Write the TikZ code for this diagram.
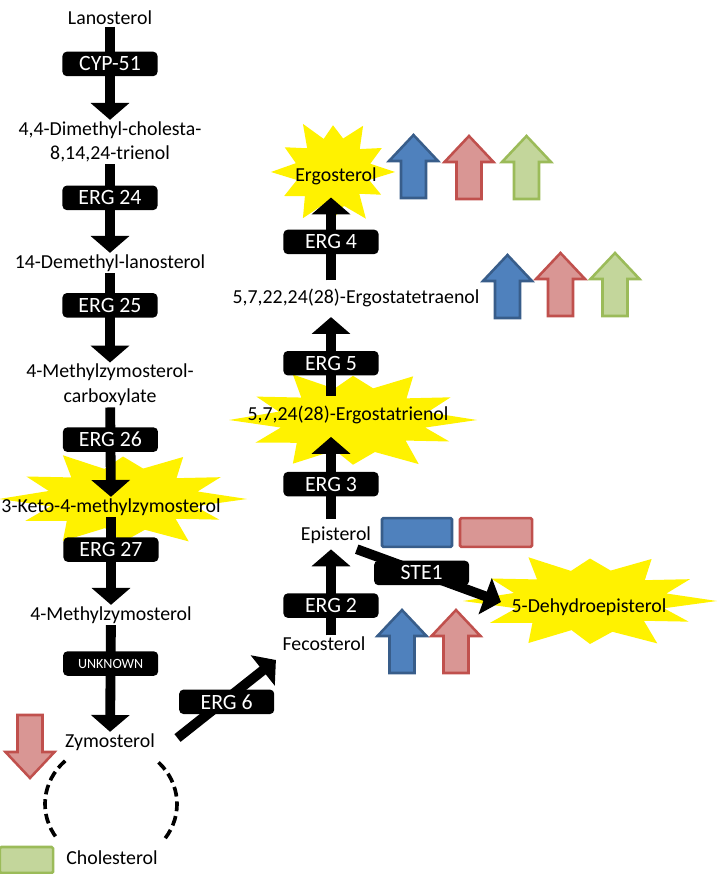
\documentclass[tikz,border=0pt]{standalone}
\usepackage{fontspec}
\setmainfont{Carlito}
\usetikzlibrary{arrows.meta,positioning}
\definecolor{markblue}{HTML}{4F81BD}
\definecolor{markblueline}{HTML}{385D8A}
\definecolor{markred}{HTML}{D99694}
\definecolor{markredline}{HTML}{C0504D}
\definecolor{markgreen}{HTML}{C3D69B}
\definecolor{markgreenline}{HTML}{9BBB59}

\begin{document}
\begin{tikzpicture}[x=0.025cm, y=-0.025cm,
  compound/.style={inner sep=1pt, align=center, font=\fontsize{14.1}{17.5}\selectfont},
  box/.style={fill=black, text=white, rounded corners=3pt, minimum width=2.375cm, minimum height=0.61cm, inner sep=0pt, font=\fontsize{15.5}{17}\selectfont},
  arrow/.style={-{Triangle[width=27pt,length=12pt]}, line width=7pt},
  bluemark/.style={draw=markblueline, fill=markblue, line width=1.8pt},
  redmark/.style={draw=markredline, fill=markred, line width=1.8pt},
  greenmark/.style={draw=markgreenline, fill=markgreen, line width=1.8pt},
  upblock/.pic={\path[pic actions] (-12.5,0) -- (12.5,0) -- (12.5,-37) -- (24.5,-37) -- (0,-63) -- (-24.5,-37) -- (-12.5,-37) -- cycle;},
  burst/.pic={\fill[yellow] (0:1) \foreach \a/\r in {14/.6,28/.88,43/.58,58/1,74/.64,90/.86,104/.6,120/.97,136/.63,151/.9,166/.6,180/1,195/.62,210/.9,226/.6,241/1,256/.62,270/.85,285/.63,300/.97,316/.6,331/.9,346/.62} {-- (\a:\r)} -- cycle;}
]
\useasboundingbox (0,0) rectangle (718,874);

% yellow bursts behind the main products
\pic[xscale=62, yscale=55] (ergoburst) at (333,172) {burst};
\pic[xscale=124, yscale=52] (trienolburst) at (353,420) {burst};
\pic[xscale=124, yscale=50] (ketoburst) at (123,499) {burst};
\pic[xscale=127, yscale=50] (dehydroburst) at (590,601) {burst};

% left branch
\node[compound] (lano) at (110,18) {Lanosterol};
\node[compound] (dimethyl) at (110,142) {4,4-Dimethyl-cholesta-\\8,14,24-trienol};
\node[compound] (demethyl) at (110,263) {14-Demethyl-lanosterol};
\node[compound] (carbox) at (110,385) {4-Methylzymosterol-\\carboxylate};
\node[compound] (keto) at (111,507) {3-Keto-4-methylzymosterol};
\node[compound] (methylzymo) at (111,615) {4-Methylzymosterol};
\node[compound] (zymo) at (110,742) {Zymosterol};
\node[compound] (chol) at (112,858) {Cholesterol};

% right branch
\coordinate (rcol) at (331,0);
\node[compound] (fecost) at (324,644) {Fecosterol};
\node[compound] (epi) at (336,535) {Episterol};
\node[compound] (trienol) at (348,415) {5,7,24(28)-Ergostatrienol};
\node[compound] (tetraenol) at (356,298) {5,7,22,24(28)-Ergostatetraenol};
\node[compound] (ergo) at (336,176) {Ergosterol};
\node[compound] (dehydro) at (589,607) {5-Dehydroepisterol};

\draw[arrow] (lano) -- node[box, pos=0.4] (cyp) {CYP-51} (dimethyl);
\draw[arrow] (dimethyl) -- node[box, pos=0.38] (erg24) {ERG 24} (demethyl);
\draw[arrow] (demethyl) -- node[box, pos=0.36] (erg25) {ERG 25} (carbox);
\draw[arrow] (carbox) -- node[box, pos=0.36] (erg26) {ERG 26} (keto);
\draw[arrow] (keto) -- node[box, pos=0.37] (erg27) {ERG 27} (methylzymo);
\draw[arrow] (methylzymo) -- node[box, pos=0.36, font=\fontsize{10}{12}\selectfont] (unknown) {UNKNOWN} (zymo);
\draw[arrow] ([shift={(21,-4)}]zymo.east) -- node[box, pos=0.5, yshift=-2pt] (erg6) {ERG 6} ([shift={(-5,16)}]fecost.west);
\draw[arrow, shorten >=3pt] (fecost.north -| rcol) -- node[box, pos=0.33] (erg2) {ERG 2} (epi.south -| rcol);
\draw[arrow, shorten <=4pt, shorten >=8pt] (epi.north -| rcol) -- node[box, pos=0.41] (erg3) {ERG 3} (trienol.south -| rcol);
\draw[arrow, shorten <=6pt, shorten >=6pt] (trienol.north -| rcol) -- node[box, pos=0.43] (erg5) {ERG 5} (tetraenol.south -| rcol);
\draw[arrow, shorten <=5pt, shorten >=8pt] (tetraenol.north -| rcol) -- node[box, pos=0.45] (erg4) {ERG 4} (ergo.south -| rcol);
\draw[arrow] ([shift={(-16,4)}]epi.south east) -- node[box, pos=0.45] (ste) {STE1} ([shift={(-9,-5)}]dehydro.west);

% dashed link from zymosterol to cholesterol
\coordinate (ring) at (111,804);
\draw[line width=2.6pt, dash pattern=on 7pt off 3.5pt] (ring) ++(-134:66 and 60) arc[start angle=-134, end angle=-215, x radius=66, y radius=60];
\draw[line width=2.6pt, dash pattern=on 7pt off 3.5pt] (ring) ++(-44:66 and 60) arc[start angle=-44, end angle=35, x radius=66, y radius=60];

% level markers
\pic[bluemark] (ergoA) at (413.5,198) {upblock};
\pic[redmark] (ergoB) at (469,199) {upblock};
\pic[greenmark] (ergoC) at (526.5,199) {upblock};
\pic[bluemark] (tetraA) at (507.5,318) {upblock};
\pic[redmark] (tetraB) at (560.5,316) {upblock};
\pic[greenmark] (tetraC) at (615,316) {upblock};
\pic[bluemark] (feA) at (402,673) {upblock};
\pic[redmark] (feB) at (456,673) {upblock};
\pic[redmark, rotate=180] (zymoA) at (30,715) {upblock};
\node[bluemark, rounded corners=1pt, minimum width=1.75cm, minimum height=0.72cm] (epiA) at (417,532.5) {};
\node[redmark, rounded corners=1pt, minimum width=1.8cm, minimum height=0.72cm] (epiB) at (496,532.5) {};
\node[greenmark, rounded corners=1pt, minimum width=1.33cm, minimum height=0.65cm] (cholA) at (26.5,860) {};
\end{tikzpicture}
\end{document}
